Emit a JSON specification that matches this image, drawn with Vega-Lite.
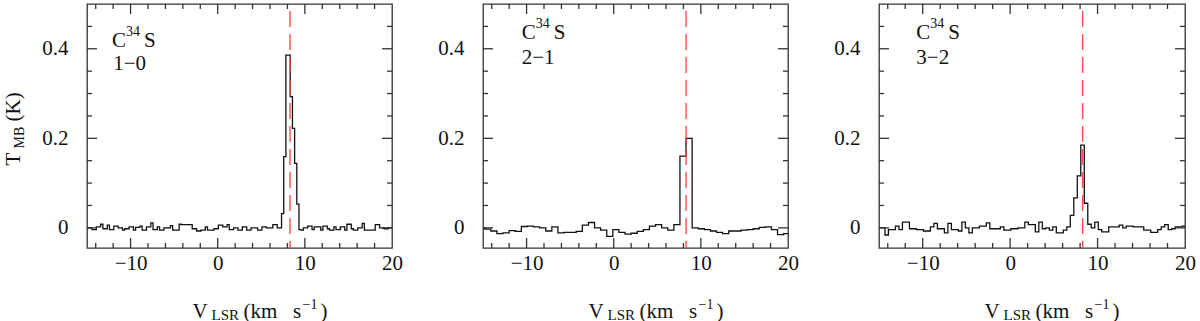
{
  "$schema": "https://vega.github.io/schema/vega-lite/v6.json",
  "padding": {"left": 1, "top": 2, "right": 5, "bottom": 0},
  "background": "white",
  "bounds": "flush",
  "spacing": 91,
  "config": {
    "view": {"stroke": "#333", "strokeWidth": 1.3},
    "font": "Liberation Serif",
    "axis": {"grid": false, "domain": false, "ticks": false, "labelFont": "Liberation Serif", "titleFont": "Liberation Serif", "titleFontWeight": "normal", "labelColor": "#111", "titleColor": "#111", "labelFlush": false, "labelOverlap": false, "labelBound": false, "titleAlign": "left", "titleBaseline": "alphabetic", "titleFontSize": 21},
    "text": {"font": "Liberation Serif", "color": "#111", "align": "left", "baseline": "alphabetic", "fontSize": 21},
    "tick": {"color": "#333", "opacity": 1, "thickness": 1.3}
  },
  "datasets": {
    "xt": [{"v": -14}, {"v": -12}, {"v": -10}, {"v": -8}, {"v": -6}, {"v": -4}, {"v": -2}, {"v": 0}, {"v": 2}, {"v": 4}, {"v": 6}, {"v": 8}, {"v": 10}, {"v": 12}, {"v": 14}, {"v": 16}, {"v": 18}],
    "yt": [{"v": 0}, {"v": 0.05}, {"v": 0.1}, {"v": 0.15}, {"v": 0.2}, {"v": 0.25}, {"v": 0.3}, {"v": 0.35}, {"v": 0.4}, {"v": 0.45}],
    "s1": [
      {"v": -15.05, "t": 0}, {"v": -14.8, "t": 0}, {"v": -14.55, "t": 0}, {"v": -14.3, "t": -0.004}, {"v": -14.05, "t": -0.004},
      {"v": -13.8, "t": 0.002}, {"v": -13.55, "t": 0.002}, {"v": -13.3, "t": 0.008}, {"v": -13.05, "t": -0.002}, {"v": -12.8, "t": -0.002},
      {"v": -12.55, "t": 0.006}, {"v": -12.3, "t": -0.004}, {"v": -12.05, "t": -0.004}, {"v": -11.8, "t": 0.004}, {"v": -11.55, "t": 0.004},
      {"v": -11.3, "t": 0}, {"v": -11.05, "t": 0}, {"v": -10.8, "t": -0.005}, {"v": -10.55, "t": -0.002}, {"v": -10.3, "t": -0.002},
      {"v": -10.05, "t": 0.002}, {"v": -9.8, "t": 0.002}, {"v": -9.55, "t": -0.005}, {"v": -9.3, "t": 0.001}, {"v": -9.05, "t": 0.001},
      {"v": -8.8, "t": 0.004}, {"v": -8.55, "t": -0.005}, {"v": -8.3, "t": -0.005}, {"v": -8.05, "t": 0.002}, {"v": -7.8, "t": 0.002},
      {"v": -7.55, "t": 0.011}, {"v": -7.3, "t": -0.004}, {"v": -7.05, "t": -0.004}, {"v": -6.8, "t": 0.002}, {"v": -6.55, "t": -0.005},
      {"v": -6.3, "t": -0.005}, {"v": -6.05, "t": 0}, {"v": -5.8, "t": 0}, {"v": -5.55, "t": 0}, {"v": -5.3, "t": 0.005},
      {"v": -5.05, "t": -0.005}, {"v": -4.8, "t": -0.005}, {"v": -4.55, "t": -0.005}, {"v": -4.3, "t": 0.008}, {"v": -4.05, "t": 0.007},
      {"v": -3.8, "t": 0.007}, {"v": -3.55, "t": 0.007}, {"v": -3.3, "t": 0.007}, {"v": -3.05, "t": 0.007}, {"v": -2.8, "t": -0.002},
      {"v": -2.55, "t": -0.002}, {"v": -2.3, "t": -0.007}, {"v": -2.05, "t": -0.007}, {"v": -1.8, "t": -0.005}, {"v": -1.55, "t": -0.005},
      {"v": -1.3, "t": 0.002}, {"v": -1.05, "t": -0.005}, {"v": -0.8, "t": -0.005}, {"v": -0.55, "t": -0.005}, {"v": -0.3, "t": -0.002},
      {"v": -0.05, "t": -0.002}, {"v": 0.2, "t": 0.006}, {"v": 0.45, "t": 0.006}, {"v": 0.7, "t": 0.002}, {"v": 0.95, "t": 0.002},
      {"v": 1.2, "t": 0.007}, {"v": 1.45, "t": -0.004}, {"v": 1.7, "t": -0.004}, {"v": 1.95, "t": 0}, {"v": 2.2, "t": 0},
      {"v": 2.45, "t": -0.005}, {"v": 2.7, "t": -0.005}, {"v": 2.95, "t": 0.002}, {"v": 3.2, "t": 0.002}, {"v": 3.45, "t": -0.005},
      {"v": 3.7, "t": -0.005}, {"v": 3.95, "t": 0}, {"v": 4.2, "t": 0}, {"v": 4.45, "t": 0}, {"v": 4.7, "t": -0.005},
      {"v": 4.95, "t": -0.005}, {"v": 5.2, "t": 0.002}, {"v": 5.45, "t": 0.002}, {"v": 5.7, "t": 0}, {"v": 5.95, "t": 0},
      {"v": 6.2, "t": 0}, {"v": 6.45, "t": 0.007}, {"v": 6.7, "t": 0.007}, {"v": 6.95, "t": 0}, {"v": 7.2, "t": 0},
      {"v": 7.45, "t": 0.032}, {"v": 7.7, "t": 0.159}, {"v": 7.95, "t": 0.386}, {"v": 8.2, "t": 0.386}, {"v": 8.45, "t": 0.293},
      {"v": 8.7, "t": 0.222}, {"v": 8.95, "t": 0.144}, {"v": 9.2, "t": 0.053}, {"v": 9.45, "t": -0.004}, {"v": 9.7, "t": -0.005},
      {"v": 9.95, "t": 0}, {"v": 10.2, "t": 0}, {"v": 10.45, "t": 0.004}, {"v": 10.7, "t": 0.004}, {"v": 10.95, "t": -0.004},
      {"v": 11.2, "t": 0.002}, {"v": 11.45, "t": 0.002}, {"v": 11.7, "t": 0.002}, {"v": 11.95, "t": -0.005}, {"v": 12.2, "t": 0.004},
      {"v": 12.45, "t": 0.004}, {"v": 12.7, "t": -0.002}, {"v": 12.95, "t": -0.005}, {"v": 13.2, "t": -0.005}, {"v": 13.45, "t": 0.002},
      {"v": 13.7, "t": -0.004}, {"v": 13.95, "t": -0.004}, {"v": 14.2, "t": 0.002}, {"v": 14.45, "t": 0.002}, {"v": 14.7, "t": -0.005},
      {"v": 14.95, "t": 0.008}, {"v": 15.2, "t": 0.008}, {"v": 15.45, "t": -0.002}, {"v": 15.7, "t": -0.005}, {"v": 15.95, "t": -0.005},
      {"v": 16.2, "t": 0}, {"v": 16.45, "t": 0}, {"v": 16.7, "t": 0.01}, {"v": 16.95, "t": -0.005}, {"v": 17.2, "t": -0.005},
      {"v": 17.45, "t": -0.005}, {"v": 17.7, "t": -0.005}, {"v": 17.95, "t": -0.005}, {"v": 18.2, "t": 0.007}, {"v": 18.45, "t": 0.007},
      {"v": 18.7, "t": 0}, {"v": 18.95, "t": 0}, {"v": 19.2, "t": -0.002}, {"v": 19.45, "t": -0.002}, {"v": 19.7, "t": 0},
      {"v": 19.95, "t": 0}, {"v": 20.2, "t": 0}
    ],
    "s2": [
      {"v": -15.15, "t": 0}, {"v": -14.45, "t": -0.003}, {"v": -13.75, "t": -0.007}, {"v": -13.05, "t": -0.013}, {"v": -12.35, "t": -0.011},
      {"v": -11.65, "t": -0.006}, {"v": -10.95, "t": -0.008}, {"v": -10.25, "t": 0.003}, {"v": -9.55, "t": 0.004}, {"v": -8.85, "t": 0.002},
      {"v": -8.15, "t": 0}, {"v": -7.45, "t": -0.007}, {"v": -6.75, "t": 0.002}, {"v": -6.05, "t": -0.011}, {"v": -5.35, "t": -0.01},
      {"v": -4.65, "t": -0.01}, {"v": -3.95, "t": -0.008}, {"v": -3.25, "t": 0.006}, {"v": -2.55, "t": 0.012}, {"v": -1.85, "t": 0},
      {"v": -1.15, "t": -0.005}, {"v": -0.45, "t": -0.019}, {"v": 0.25, "t": -0.004}, {"v": 0.95, "t": -0.01}, {"v": 1.65, "t": -0.014},
      {"v": 2.35, "t": -0.012}, {"v": 3.05, "t": -0.008}, {"v": 3.75, "t": -0.004}, {"v": 4.45, "t": 0.004}, {"v": 5.15, "t": 0.007},
      {"v": 5.85, "t": 0}, {"v": 6.55, "t": -0.005}, {"v": 7.25, "t": 0.007}, {"v": 7.95, "t": 0.16}, {"v": 8.65, "t": 0.2},
      {"v": 9.35, "t": 0}, {"v": 10.05, "t": -0.002}, {"v": 10.75, "t": -0.004}, {"v": 11.45, "t": -0.007}, {"v": 12.15, "t": -0.01},
      {"v": 12.85, "t": -0.013}, {"v": 13.55, "t": -0.007}, {"v": 14.25, "t": -0.007}, {"v": 14.95, "t": -0.005}, {"v": 15.65, "t": -0.004},
      {"v": 16.35, "t": -0.002}, {"v": 17.05, "t": 0.001}, {"v": 17.75, "t": 0.002}, {"v": 18.45, "t": -0.004}, {"v": 19.15, "t": -0.015},
      {"v": 19.85, "t": -0.013}, {"v": 20.55, "t": 0}
    ],
    "s3": [
      {"v": -15.32, "t": 0}, {"v": -14.92, "t": 0}, {"v": -14.52, "t": 0}, {"v": -14.12, "t": -0.016}, {"v": -13.72, "t": -0.004},
      {"v": -13.32, "t": -0.004}, {"v": -12.92, "t": 0.004}, {"v": -12.52, "t": -0.004}, {"v": -12.12, "t": 0.013}, {"v": -11.72, "t": 0.013},
      {"v": -11.32, "t": -0.002}, {"v": -10.92, "t": -0.002}, {"v": -10.52, "t": -0.004}, {"v": -10.12, "t": -0.004}, {"v": -9.72, "t": -0.007},
      {"v": -9.32, "t": -0.007}, {"v": -8.92, "t": 0.002}, {"v": -8.52, "t": 0.01}, {"v": -8.12, "t": -0.002}, {"v": -7.72, "t": -0.002},
      {"v": -7.32, "t": -0.011}, {"v": -6.92, "t": 0.01}, {"v": -6.52, "t": -0.004}, {"v": -6.12, "t": -0.004}, {"v": -5.72, "t": -0.007},
      {"v": -5.32, "t": 0.013}, {"v": -4.92, "t": 0}, {"v": -4.52, "t": -0.011}, {"v": -4.12, "t": 0}, {"v": -3.72, "t": 0},
      {"v": -3.32, "t": 0.004}, {"v": -2.92, "t": 0.004}, {"v": -2.52, "t": 0.011}, {"v": -2.12, "t": -0.002}, {"v": -1.72, "t": -0.002},
      {"v": -1.32, "t": -0.002}, {"v": -0.92, "t": 0.002}, {"v": -0.52, "t": -0.005}, {"v": -0.12, "t": -0.005}, {"v": 0.28, "t": -0.002},
      {"v": 0.68, "t": -0.002}, {"v": 1.08, "t": 0}, {"v": 1.48, "t": 0}, {"v": 1.88, "t": 0.013}, {"v": 2.28, "t": 0.007},
      {"v": 2.68, "t": 0.007}, {"v": 3.08, "t": -0.009}, {"v": 3.48, "t": 0.013}, {"v": 3.88, "t": -0.002}, {"v": 4.28, "t": 0},
      {"v": 4.68, "t": -0.005}, {"v": 5.08, "t": 0.002}, {"v": 5.48, "t": -0.011}, {"v": 5.88, "t": -0.011}, {"v": 6.28, "t": -0.005},
      {"v": 6.68, "t": 0.002}, {"v": 7.08, "t": 0.028}, {"v": 7.48, "t": 0.067}, {"v": 7.88, "t": 0.116}, {"v": 8.28, "t": 0.185},
      {"v": 8.68, "t": 0.055}, {"v": 9.08, "t": 0.008}, {"v": 9.48, "t": 0}, {"v": 9.88, "t": 0.013}, {"v": 10.28, "t": -0.004},
      {"v": 10.68, "t": -0.009}, {"v": 11.08, "t": -0.009}, {"v": 11.48, "t": 0.002}, {"v": 11.88, "t": 0.002}, {"v": 12.28, "t": 0.002},
      {"v": 12.68, "t": 0.006}, {"v": 13.08, "t": 0}, {"v": 13.48, "t": 0.004}, {"v": 13.88, "t": 0.004}, {"v": 14.28, "t": 0.002},
      {"v": 14.68, "t": 0.002}, {"v": 15.08, "t": 0.002}, {"v": 15.48, "t": -0.005}, {"v": 15.88, "t": -0.005}, {"v": 16.28, "t": -0.01},
      {"v": 16.68, "t": -0.01}, {"v": 17.08, "t": -0.004}, {"v": 17.48, "t": 0.002}, {"v": 17.88, "t": 0.007}, {"v": 18.28, "t": -0.004},
      {"v": 18.68, "t": -0.002}, {"v": 19.08, "t": 0.002}, {"v": 19.48, "t": 0.002}, {"v": 19.88, "t": 0.004}, {"v": 20.28, "t": 0.004}
    ]
  },
  "hconcat": [
    {
      "width": 305, "height": 244,
      "resolve": {"axis": {"x": "independent", "y": "independent"}},
      "layer": [
        {
          "data": {"name": "s1"},
          "mark": {"type": "line", "interpolate": "step", "color": "#111", "strokeWidth": 1.3, "clip": true},
          "encoding": {
            "x": {"field": "v", "type": "quantitative", "scale": {"domain": [-15, 20], "nice": false, "zero": false},
              "axis": {"orient": "bottom", "values": [-10, 0, 10, 20], "format": "d", "labelFontSize": 21, "labelPadding": 4, "title": "V", "titleX": 105, "titleY": 69}},
            "y": {"field": "t", "type": "quantitative", "scale": {"domain": [-0.045, 0.5], "nice": false, "zero": false},
              "axis": {"orient": "left", "values": [0, 0.2, 0.4], "labelExpr": "datum.value === 0 ? '0' : datum.value === 0.2 ? '0.2' : '0.4'", "labelFontSize": 21, "labelPadding": 19, "title": "T", "titleAngle": 270, "titleX": -68, "titleY": 161}}
          }
        },
        {
          "data": {"values": [{"v": 8.3}]},
          "mark": {"type": "rule", "color": "#ff4040", "strokeDash": [16, 7], "strokeDashOffset": 16, "strokeWidth": 1.3},
          "encoding": {
            "x": {"field": "v", "type": "quantitative", "scale": {"domain": [-15, 20], "nice": false, "zero": false},
              "axis": {"orient": "bottom", "values": [0], "labels": false, "title": "LSR", "titleFontSize": 15, "titleX": 124, "titleY": 71}},
            "y": {"datum": 0.5, "type": "quantitative", "scale": {"domain": [-0.045, 0.5], "nice": false, "zero": false},
              "axis": {"orient": "left", "values": [0], "labels": false, "title": "MB", "titleFontSize": 14, "titleAngle": 270, "titleX": -64, "titleY": 144}},
            "y2": {"datum": -0.045}
          }
        },
        {
          "data": {"values": [{"label": "C"}]},
          "mark": {"type": "text"},
          "encoding": {
            "text": {"field": "label"},
            "x": {"datum": -12.13, "type": "quantitative", "scale": {"domain": [-15, 20], "nice": false, "zero": false},
              "axis": {"orient": "bottom", "values": [0], "labels": false, "title": "(km\u00a0\u00a0\u00a0s", "titleX": 156, "titleY": 69}},
            "y": {"datum": 0.403, "type": "quantitative", "scale": {"domain": [-0.045, 0.5], "nice": false, "zero": false},
              "axis": {"orient": "left", "values": [0], "labels": false, "title": "(K)", "titleAngle": 270, "titleX": -68, "titleY": 117}}
          }
        },
        {
          "data": {"values": [{"label": "34"}]},
          "mark": {"type": "text", "fontSize": 14, "dx": 14, "dy": -11},
          "encoding": {
            "text": {"field": "label"},
            "x": {"datum": -12.13, "type": "quantitative", "scale": {"domain": [-15, 20], "nice": false, "zero": false},
              "axis": {"orient": "bottom", "values": [0], "labels": false, "title": "−1", "titleFontSize": 14, "titleX": 215, "titleY": 60}},
            "y": {"datum": 0.403, "type": "quantitative", "scale": {"domain": [-0.045, 0.5], "nice": false, "zero": false}, "axis": null}
          }
        },
        {
          "data": {"values": [{"label": "S"}]},
          "mark": {"type": "text", "dx": 32},
          "encoding": {
            "text": {"field": "label"},
            "x": {"datum": -12.13, "type": "quantitative", "scale": {"domain": [-15, 20], "nice": false, "zero": false},
              "axis": {"orient": "bottom", "values": [0], "labels": false, "title": ")", "titleX": 233, "titleY": 69}},
            "y": {"datum": 0.403, "type": "quantitative", "scale": {"domain": [-0.045, 0.5], "nice": false, "zero": false}, "axis": null}
          }
        },
        {
          "data": {"values": [{"label": "1−0"}]},
          "mark": {"type": "text"},
          "encoding": {
            "text": {"field": "label"},
            "x": {"datum": -12.0, "type": "quantitative", "scale": {"domain": [-15, 20], "nice": false, "zero": false}, "axis": null},
            "y": {"datum": 0.352, "type": "quantitative", "scale": {"domain": [-0.045, 0.5], "nice": false, "zero": false}, "axis": null}
          }
        },
        {
          "data": {"name": "xt"},
          "mark": {"type": "tick", "orient": "vertical", "clip": true},
          "encoding": {
            "x": {"field": "v", "type": "quantitative", "scale": {"domain": [-15, 20], "nice": false, "zero": false}, "axis": null},
            "y": {"datum": -0.045, "type": "quantitative", "scale": {"domain": [-0.045, 0.5], "nice": false, "zero": false}, "axis": null},
            "size": {"condition": {"test": "datum.v % 10 === 0", "value": 20}, "value": 10}
          }
        },
        {
          "data": {"name": "xt"},
          "mark": {"type": "tick", "orient": "vertical", "clip": true},
          "encoding": {
            "x": {"field": "v", "type": "quantitative", "scale": {"domain": [-15, 20], "nice": false, "zero": false}, "axis": null},
            "y": {"datum": 0.5, "type": "quantitative", "scale": {"domain": [-0.045, 0.5], "nice": false, "zero": false}, "axis": null},
            "size": {"condition": {"test": "datum.v % 10 === 0", "value": 20}, "value": 10}
          }
        },
        {
          "data": {"name": "yt"},
          "mark": {"type": "tick", "orient": "horizontal", "clip": true},
          "encoding": {
            "y": {"field": "v", "type": "quantitative", "scale": {"domain": [-0.045, 0.5], "nice": false, "zero": false}, "axis": null},
            "x": {"datum": -15, "type": "quantitative", "scale": {"domain": [-15, 20], "nice": false, "zero": false}, "axis": null},
            "size": {"condition": {"test": "datum.v === 0 || datum.v === 0.2 || datum.v === 0.4", "value": 20}, "value": 10}
          }
        },
        {
          "data": {"name": "yt"},
          "mark": {"type": "tick", "orient": "horizontal", "clip": true},
          "encoding": {
            "y": {"field": "v", "type": "quantitative", "scale": {"domain": [-0.045, 0.5], "nice": false, "zero": false}, "axis": null},
            "x": {"datum": 20, "type": "quantitative", "scale": {"domain": [-15, 20], "nice": false, "zero": false}, "axis": null},
            "size": {"condition": {"test": "datum.v === 0 || datum.v === 0.2 || datum.v === 0.4", "value": 20}, "value": 10}
          }
        }
      ]
    },
    {
      "width": 305, "height": 244,
      "resolve": {"axis": {"x": "independent", "y": "independent"}},
      "layer": [
        {
          "data": {"name": "s2"},
          "mark": {"type": "line", "interpolate": "step", "color": "#111", "strokeWidth": 1.3, "clip": true},
          "encoding": {
            "x": {"field": "v", "type": "quantitative", "scale": {"domain": [-15, 20], "nice": false, "zero": false},
              "axis": {"orient": "bottom", "values": [-10, 0, 10, 20], "format": "d", "labelFontSize": 21, "labelPadding": 4, "title": "V", "titleX": 105, "titleY": 69}},
            "y": {"field": "t", "type": "quantitative", "scale": {"domain": [-0.045, 0.5], "nice": false, "zero": false},
              "axis": {"orient": "left", "values": [0, 0.2, 0.4], "labelExpr": "datum.value === 0 ? '0' : datum.value === 0.2 ? '0.2' : '0.4'", "labelFontSize": 21, "labelPadding": 19, "title": null}}
          }
        },
        {
          "data": {"values": [{"v": 8.3}]},
          "mark": {"type": "rule", "color": "#ff4040", "strokeDash": [16, 7], "strokeDashOffset": 16, "strokeWidth": 1.3},
          "encoding": {
            "x": {"field": "v", "type": "quantitative", "scale": {"domain": [-15, 20], "nice": false, "zero": false},
              "axis": {"orient": "bottom", "values": [0], "labels": false, "title": "LSR", "titleFontSize": 15, "titleX": 124, "titleY": 71}},
            "y": {"datum": 0.5, "type": "quantitative", "scale": {"domain": [-0.045, 0.5], "nice": false, "zero": false}, "axis": null},
            "y2": {"datum": -0.045}
          }
        },
        {
          "data": {"values": [{"label": "C"}]},
          "mark": {"type": "text"},
          "encoding": {
            "text": {"field": "label"},
            "x": {"datum": -10.56, "type": "quantitative", "scale": {"domain": [-15, 20], "nice": false, "zero": false},
              "axis": {"orient": "bottom", "values": [0], "labels": false, "title": "(km\u00a0\u00a0\u00a0s", "titleX": 156, "titleY": 69}},
            "y": {"datum": 0.421, "type": "quantitative", "scale": {"domain": [-0.045, 0.5], "nice": false, "zero": false}, "axis": null}
          }
        },
        {
          "data": {"values": [{"label": "34"}]},
          "mark": {"type": "text", "fontSize": 14, "dx": 14, "dy": -11},
          "encoding": {
            "text": {"field": "label"},
            "x": {"datum": -10.56, "type": "quantitative", "scale": {"domain": [-15, 20], "nice": false, "zero": false},
              "axis": {"orient": "bottom", "values": [0], "labels": false, "title": "−1", "titleFontSize": 14, "titleX": 215, "titleY": 60}},
            "y": {"datum": 0.421, "type": "quantitative", "scale": {"domain": [-0.045, 0.5], "nice": false, "zero": false}, "axis": null}
          }
        },
        {
          "data": {"values": [{"label": "S"}]},
          "mark": {"type": "text", "dx": 32},
          "encoding": {
            "text": {"field": "label"},
            "x": {"datum": -10.56, "type": "quantitative", "scale": {"domain": [-15, 20], "nice": false, "zero": false},
              "axis": {"orient": "bottom", "values": [0], "labels": false, "title": ")", "titleX": 233, "titleY": 69}},
            "y": {"datum": 0.421, "type": "quantitative", "scale": {"domain": [-0.045, 0.5], "nice": false, "zero": false}, "axis": null}
          }
        },
        {
          "data": {"values": [{"label": "2−1"}]},
          "mark": {"type": "text"},
          "encoding": {
            "text": {"field": "label"},
            "x": {"datum": -10.56, "type": "quantitative", "scale": {"domain": [-15, 20], "nice": false, "zero": false}, "axis": null},
            "y": {"datum": 0.367, "type": "quantitative", "scale": {"domain": [-0.045, 0.5], "nice": false, "zero": false}, "axis": null}
          }
        },
        {
          "data": {"name": "xt"},
          "mark": {"type": "tick", "orient": "vertical", "clip": true},
          "encoding": {
            "x": {"field": "v", "type": "quantitative", "scale": {"domain": [-15, 20], "nice": false, "zero": false}, "axis": null},
            "y": {"datum": -0.045, "type": "quantitative", "scale": {"domain": [-0.045, 0.5], "nice": false, "zero": false}, "axis": null},
            "size": {"condition": {"test": "datum.v % 10 === 0", "value": 20}, "value": 10}
          }
        },
        {
          "data": {"name": "xt"},
          "mark": {"type": "tick", "orient": "vertical", "clip": true},
          "encoding": {
            "x": {"field": "v", "type": "quantitative", "scale": {"domain": [-15, 20], "nice": false, "zero": false}, "axis": null},
            "y": {"datum": 0.5, "type": "quantitative", "scale": {"domain": [-0.045, 0.5], "nice": false, "zero": false}, "axis": null},
            "size": {"condition": {"test": "datum.v % 10 === 0", "value": 20}, "value": 10}
          }
        },
        {
          "data": {"name": "yt"},
          "mark": {"type": "tick", "orient": "horizontal", "clip": true},
          "encoding": {
            "y": {"field": "v", "type": "quantitative", "scale": {"domain": [-0.045, 0.5], "nice": false, "zero": false}, "axis": null},
            "x": {"datum": -15, "type": "quantitative", "scale": {"domain": [-15, 20], "nice": false, "zero": false}, "axis": null},
            "size": {"condition": {"test": "datum.v === 0 || datum.v === 0.2 || datum.v === 0.4", "value": 20}, "value": 10}
          }
        },
        {
          "data": {"name": "yt"},
          "mark": {"type": "tick", "orient": "horizontal", "clip": true},
          "encoding": {
            "y": {"field": "v", "type": "quantitative", "scale": {"domain": [-0.045, 0.5], "nice": false, "zero": false}, "axis": null},
            "x": {"datum": 20, "type": "quantitative", "scale": {"domain": [-15, 20], "nice": false, "zero": false}, "axis": null},
            "size": {"condition": {"test": "datum.v === 0 || datum.v === 0.2 || datum.v === 0.4", "value": 20}, "value": 10}
          }
        }
      ]
    },
    {
      "width": 306, "height": 244,
      "resolve": {"axis": {"x": "independent", "y": "independent"}},
      "layer": [
        {
          "data": {"name": "s3"},
          "mark": {"type": "line", "interpolate": "step", "color": "#111", "strokeWidth": 1.3, "clip": true},
          "encoding": {
            "x": {"field": "v", "type": "quantitative", "scale": {"domain": [-15, 20], "nice": false, "zero": false},
              "axis": {"orient": "bottom", "values": [-10, 0, 10, 20], "format": "d", "labelFontSize": 21, "labelPadding": 4, "title": "V", "titleX": 105, "titleY": 69}},
            "y": {"field": "t", "type": "quantitative", "scale": {"domain": [-0.045, 0.5], "nice": false, "zero": false},
              "axis": {"orient": "left", "values": [0, 0.2, 0.4], "labelExpr": "datum.value === 0 ? '0' : datum.value === 0.2 ? '0.2' : '0.4'", "labelFontSize": 21, "labelPadding": 19, "title": null}}
          }
        },
        {
          "data": {"values": [{"v": 8.3}]},
          "mark": {"type": "rule", "color": "#ff4040", "strokeDash": [16, 7], "strokeDashOffset": 16, "strokeWidth": 1.3},
          "encoding": {
            "x": {"field": "v", "type": "quantitative", "scale": {"domain": [-15, 20], "nice": false, "zero": false},
              "axis": {"orient": "bottom", "values": [0], "labels": false, "title": "LSR", "titleFontSize": 15, "titleX": 124, "titleY": 71}},
            "y": {"datum": 0.5, "type": "quantitative", "scale": {"domain": [-0.045, 0.5], "nice": false, "zero": false}, "axis": null},
            "y2": {"datum": -0.045}
          }
        },
        {
          "data": {"values": [{"label": "C"}]},
          "mark": {"type": "text"},
          "encoding": {
            "text": {"field": "label"},
            "x": {"datum": -10.73, "type": "quantitative", "scale": {"domain": [-15, 20], "nice": false, "zero": false},
              "axis": {"orient": "bottom", "values": [0], "labels": false, "title": "(km\u00a0\u00a0\u00a0s", "titleX": 156, "titleY": 69}},
            "y": {"datum": 0.421, "type": "quantitative", "scale": {"domain": [-0.045, 0.5], "nice": false, "zero": false}, "axis": null}
          }
        },
        {
          "data": {"values": [{"label": "34"}]},
          "mark": {"type": "text", "fontSize": 14, "dx": 14, "dy": -11},
          "encoding": {
            "text": {"field": "label"},
            "x": {"datum": -10.73, "type": "quantitative", "scale": {"domain": [-15, 20], "nice": false, "zero": false},
              "axis": {"orient": "bottom", "values": [0], "labels": false, "title": "−1", "titleFontSize": 14, "titleX": 215, "titleY": 60}},
            "y": {"datum": 0.421, "type": "quantitative", "scale": {"domain": [-0.045, 0.5], "nice": false, "zero": false}, "axis": null}
          }
        },
        {
          "data": {"values": [{"label": "S"}]},
          "mark": {"type": "text", "dx": 32},
          "encoding": {
            "text": {"field": "label"},
            "x": {"datum": -10.73, "type": "quantitative", "scale": {"domain": [-15, 20], "nice": false, "zero": false},
              "axis": {"orient": "bottom", "values": [0], "labels": false, "title": ")", "titleX": 233, "titleY": 69}},
            "y": {"datum": 0.421, "type": "quantitative", "scale": {"domain": [-0.045, 0.5], "nice": false, "zero": false}, "axis": null}
          }
        },
        {
          "data": {"values": [{"label": "3−2"}]},
          "mark": {"type": "text"},
          "encoding": {
            "text": {"field": "label"},
            "x": {"datum": -10.73, "type": "quantitative", "scale": {"domain": [-15, 20], "nice": false, "zero": false}, "axis": null},
            "y": {"datum": 0.367, "type": "quantitative", "scale": {"domain": [-0.045, 0.5], "nice": false, "zero": false}, "axis": null}
          }
        },
        {
          "data": {"name": "xt"},
          "mark": {"type": "tick", "orient": "vertical", "clip": true},
          "encoding": {
            "x": {"field": "v", "type": "quantitative", "scale": {"domain": [-15, 20], "nice": false, "zero": false}, "axis": null},
            "y": {"datum": -0.045, "type": "quantitative", "scale": {"domain": [-0.045, 0.5], "nice": false, "zero": false}, "axis": null},
            "size": {"condition": {"test": "datum.v % 10 === 0", "value": 20}, "value": 10}
          }
        },
        {
          "data": {"name": "xt"},
          "mark": {"type": "tick", "orient": "vertical", "clip": true},
          "encoding": {
            "x": {"field": "v", "type": "quantitative", "scale": {"domain": [-15, 20], "nice": false, "zero": false}, "axis": null},
            "y": {"datum": 0.5, "type": "quantitative", "scale": {"domain": [-0.045, 0.5], "nice": false, "zero": false}, "axis": null},
            "size": {"condition": {"test": "datum.v % 10 === 0", "value": 20}, "value": 10}
          }
        },
        {
          "data": {"name": "yt"},
          "mark": {"type": "tick", "orient": "horizontal", "clip": true},
          "encoding": {
            "y": {"field": "v", "type": "quantitative", "scale": {"domain": [-0.045, 0.5], "nice": false, "zero": false}, "axis": null},
            "x": {"datum": -15, "type": "quantitative", "scale": {"domain": [-15, 20], "nice": false, "zero": false}, "axis": null},
            "size": {"condition": {"test": "datum.v === 0 || datum.v === 0.2 || datum.v === 0.4", "value": 20}, "value": 10}
          }
        },
        {
          "data": {"name": "yt"},
          "mark": {"type": "tick", "orient": "horizontal", "clip": true},
          "encoding": {
            "y": {"field": "v", "type": "quantitative", "scale": {"domain": [-0.045, 0.5], "nice": false, "zero": false}, "axis": null},
            "x": {"datum": 20, "type": "quantitative", "scale": {"domain": [-15, 20], "nice": false, "zero": false}, "axis": null},
            "size": {"condition": {"test": "datum.v === 0 || datum.v === 0.2 || datum.v === 0.4", "value": 20}, "value": 10}
          }
        }
      ]
    }
  ]
}
